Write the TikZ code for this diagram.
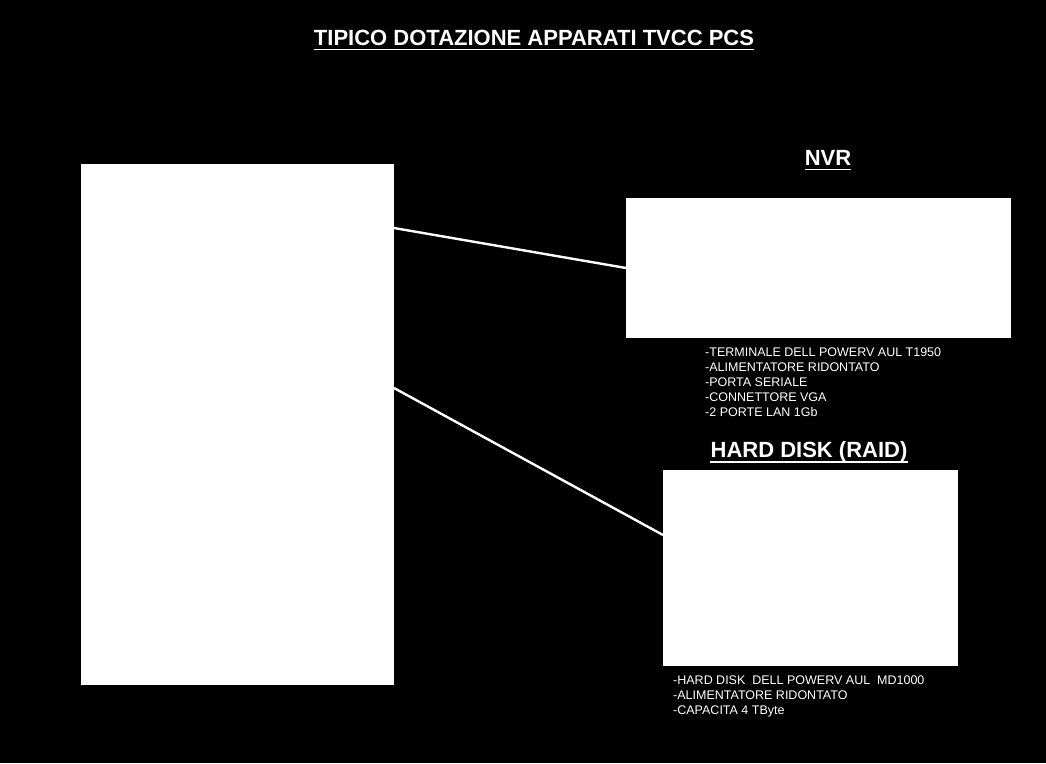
\documentclass[tikz,border=0pt]{standalone}
\usepackage{fontspec}
\setmainfont{Liberation Sans}
\tikzset{
  titolo/.style={text=white,font=\bfseries\fontsize{22}{26}\selectfont,inner sep=0pt},
  sottolinea/.style={white,line width=1.8pt},
  scatola/.style={fill=white,draw=none,anchor=north west},
  nota/.style={text=white,font=\fontsize{12.5}{15}\selectfont,inner sep=0pt,align=left,anchor=north west},
  collega/.style={draw=white,line width=2.4pt}
}
\begin{document}
\begin{tikzpicture}[x=1pt,y=-1pt]
  \fill[black] (0,0) rectangle (1046,763);
  \useasboundingbox (0,0) rectangle (1046,763);
  % titoli
  \node[titolo] (tit) at (534,38) {TIPICO DOTAZIONE APPARATI TVCC PCS};
  \draw[sottolinea] ([yshift=-4pt]tit.base west) -- ([yshift=-4pt]tit.base east);
  \node[titolo] (tnvr) at (828,158) {NVR};
  \draw[sottolinea] ([yshift=-4pt]tnvr.base west) -- ([yshift=-4pt]tnvr.base east);
  \node[titolo] (thd) at (809,452) {HARD DISK (RAID)};
  \draw[sottolinea] ([yshift=-4pt]thd.base west) -- ([yshift=-4pt]thd.base east);
  % apparati
  \node[scatola,minimum width=313pt,minimum height=521pt] (pcs) at (81,164) {};
  \node[scatola,minimum width=385pt,minimum height=140pt] (nvr) at (626,198) {};
  \node[scatola,minimum width=295pt,minimum height=196pt] (hd) at (663,470) {};
  % collegamenti
  \coordinate (a1) at (394,228);
  \coordinate (a2) at (394,388);
  \draw[collega] (a1) -- (nvr.west |- 0,268);
  \draw[collega] (a2) -- (hd.west |- 0,535);
  % caratteristiche
  \node[nota] (cnvr) at (705,348) {-TERMINALE DELL POWERV AUL T1950\\ -ALIMENTATORE RIDONTATO\\ -PORTA SERIALE\\ -CONNETTORE VGA\\ -2 PORTE LAN 1Gb};
  \node[nota] (chd) at (673,676) {-HARD DISK\ \ DELL POWERV AUL\ \ MD1000\\ -ALIMENTATORE RIDONTATO\\ -CAPACITA 4 TByte};
\end{tikzpicture}
\end{document}
